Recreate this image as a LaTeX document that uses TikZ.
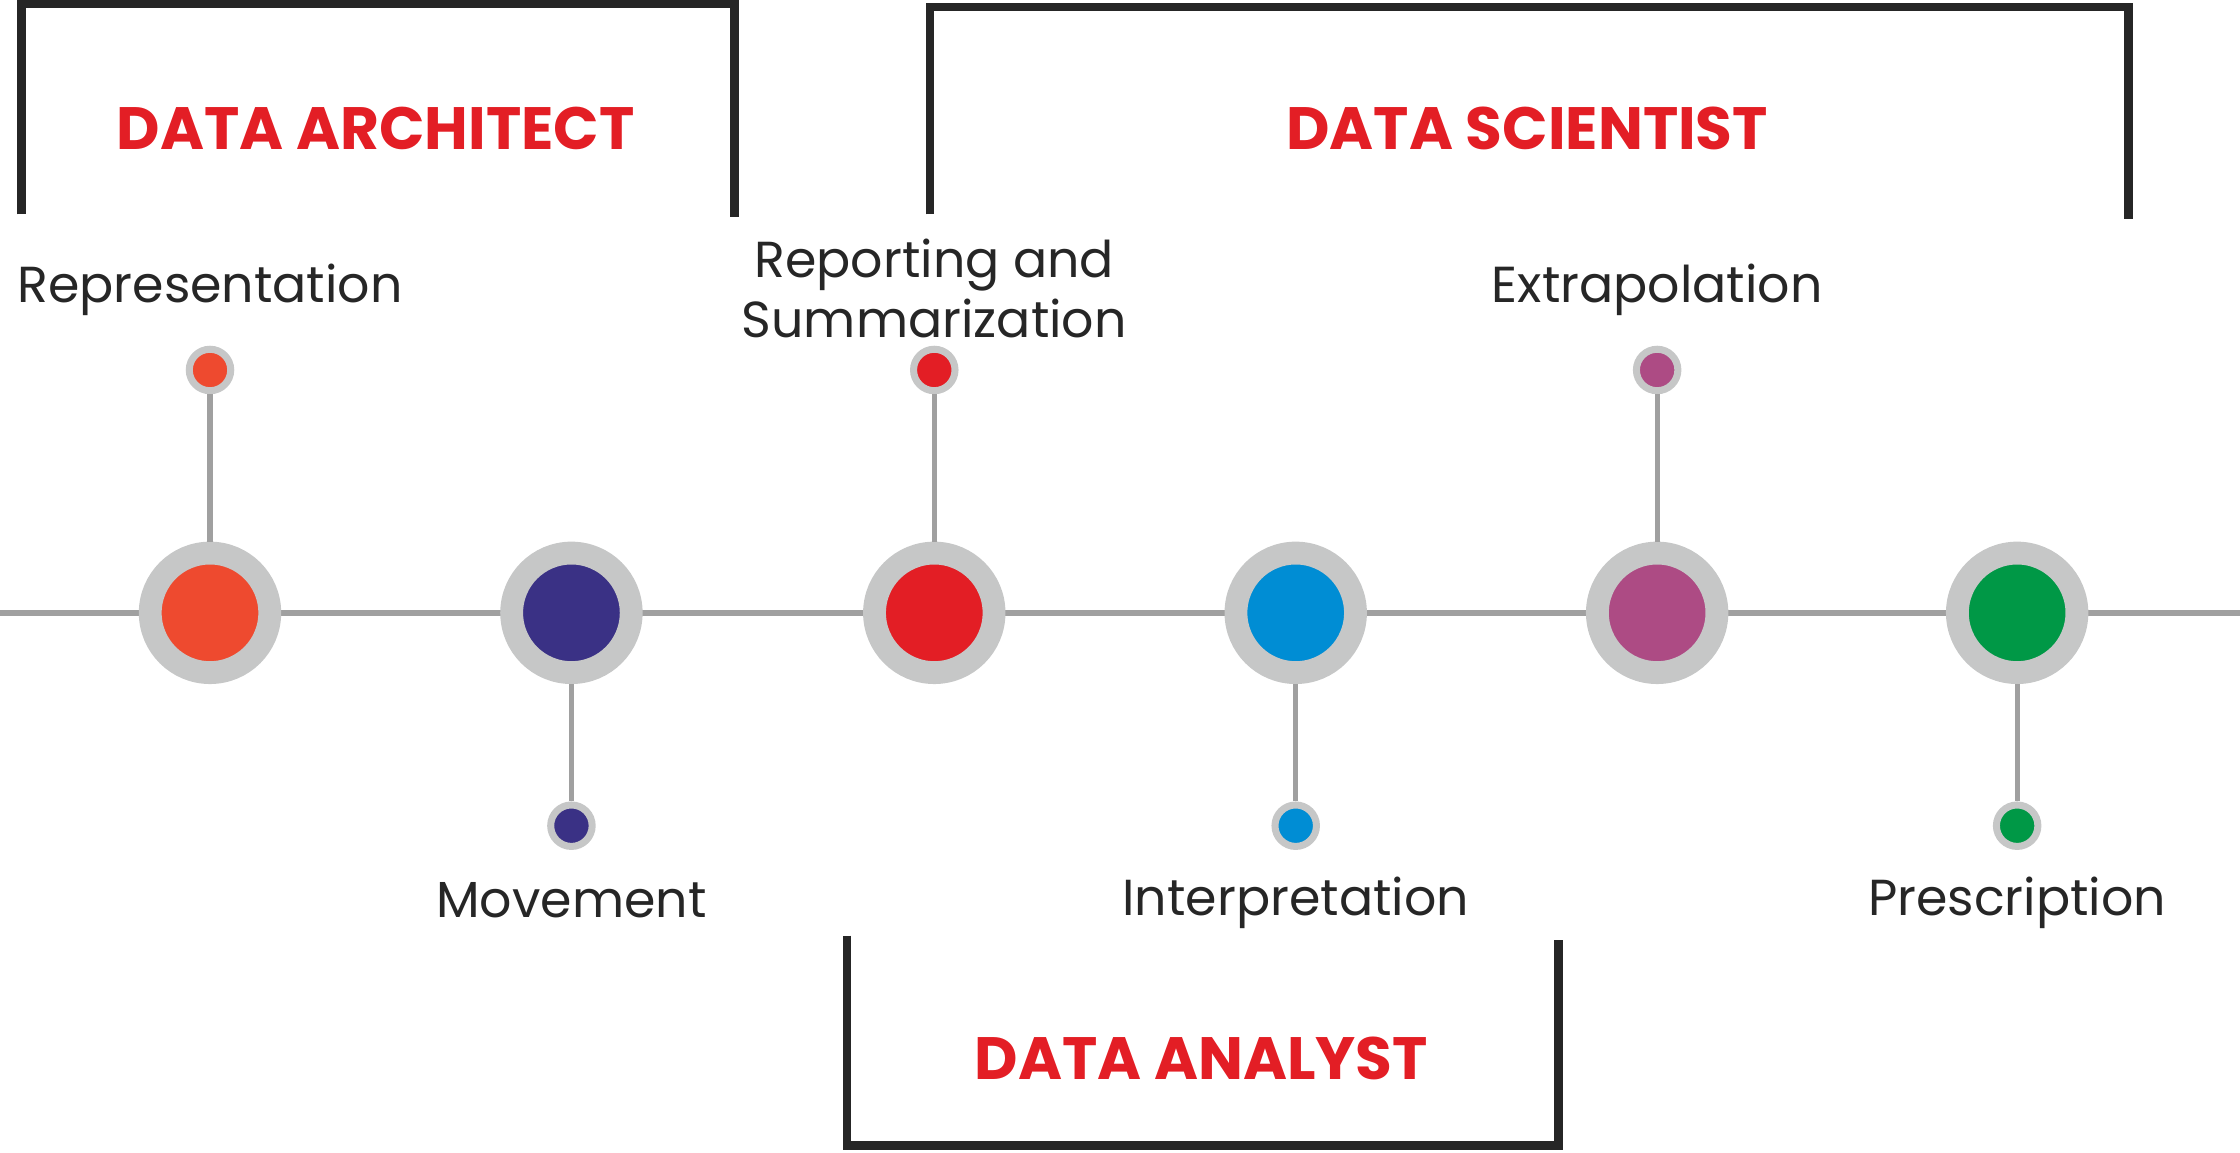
\documentclass[tikz,border=0pt]{standalone}
\usepackage{fontspec}
\setmainfont{Poppins}
\usetikzlibrary{positioning}

\definecolor{ringgray}{HTML}{C6C7C7}
\definecolor{linegray}{HTML}{A0A0A0}
\definecolor{darkline}{HTML}{262626}
\definecolor{titlered}{HTML}{E31E25}
\definecolor{cOrange}{HTML}{EE4A2F}
\definecolor{cNavy}{HTML}{3A3185}
\definecolor{cRed}{HTML}{E31E25}
\definecolor{cBlue}{HTML}{008DD4}
\definecolor{cMagenta}{HTML}{AD4B84}
\definecolor{cGreen}{HTML}{009846}

\tikzset{
  bigdot/.style={circle,inner sep=0pt,minimum size=34pt,draw=ringgray,line width=6.5pt,fill=#1},
  smalldot/.style={circle,inner sep=0pt,minimum size=11.8pt,draw=ringgray,line width=2pt,fill=#1},
  stem/.style={linegray,line width=1.5pt},
  bracket/.style={darkline,line width=2.4pt},
  steplabel/.style={anchor=base,text=darkline,font=\fontsize{14.4}{17}\selectfont,align=center,inner sep=0pt},
  roletitle/.style={anchor=base,text=titlered,font=\bfseries\fontsize{17}{20}\selectfont,inner sep=0pt}
}

\begin{document}
\begin{tikzpicture}[x=0.014286cm,y=-0.014286cm]
\useasboundingbox (0,0) rectangle (1568,807);

% Timeline
\coordinate (tl-start) at (0,429);
\coordinate (tl-end) at (1568,429);
\draw[linegray,line width=1.8pt] (tl-start) -- (tl-end);

% Main stations
\node[bigdot=cOrange] (repr) at (147,429) {};
\node[bigdot=cNavy] (move) at (400,429) {};
\node[bigdot=cRed] (report) at (654,429) {};
\node[bigdot=cBlue] (interp) at (907,429) {};
\node[bigdot=cMagenta] (extra) at (1160,429) {};
\node[bigdot=cGreen] (presc) at (1412,429) {};

% Small markers
\node[smalldot=cOrange] (repr-dot) at (147,259) {};
\node[smalldot=cNavy] (move-dot) at (400,578) {};
\node[smalldot=cRed] (report-dot) at (654,259) {};
\node[smalldot=cBlue] (interp-dot) at (907,578) {};
\node[smalldot=cMagenta] (extra-dot) at (1160,259) {};
\node[smalldot=cGreen] (presc-dot) at (1412,578) {};

% Stems
\draw[stem] (repr) -- (repr-dot);
\draw[stem] (move) -- (move-dot);
\draw[stem] (report) -- (report-dot);
\draw[stem] (interp) -- (interp-dot);
\draw[stem] (extra) -- (extra-dot);
\draw[stem] (presc) -- (presc-dot);

% Labels
\node[steplabel] (repr-lbl) at (147,212) {Representation};
\node[steplabel] (move-lbl) at (400,642) {Movement};
\node[steplabel] (report-lbl) at (654,236) {Reporting and\\Summarization};
\node[steplabel] (interp-lbl) at (907,641) {Interpretation};
\node[steplabel] (extra-lbl) at (1160,212) {Extrapolation};
\node[steplabel] (presc-lbl) at (1412,641) {Prescription};

% Role brackets
\draw[bracket] (15,150) -- (15,3) -- (514,3) -- (514,152);
\draw[bracket] (651,150) -- (651,5) -- (1490,5) -- (1490,153);
\draw[bracket] (593,655) -- (593,802) -- (1091,802) -- (1091,658);

% Role titles
\node[roletitle] (architect) at (263,105) {DATA ARCHITECT};
\node[roletitle] (scientist) at (1069,105) {DATA SCIENTIST};
\node[roletitle] (analyst) at (841,756) {DATA ANALYST};

\end{tikzpicture}
\end{document}
